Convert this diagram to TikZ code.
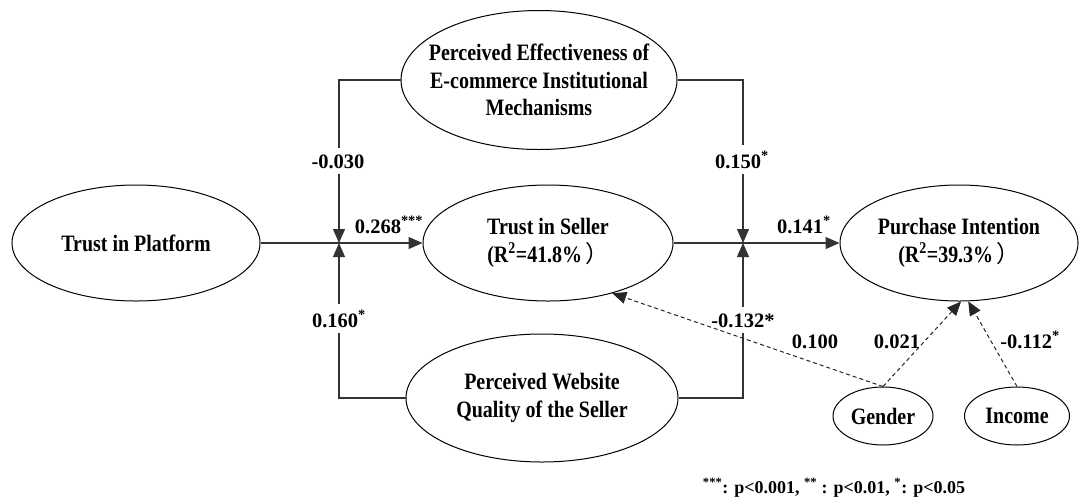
\documentclass[tikz,border=0pt]{standalone}
\usepackage{fontspec}
\setmainfont{Liberation Serif}
\newfontfamily\narrowfont{Liberation Serif}[FakeStretch=0.85]
\newfontfamily\cjk{Noto Sans CJK SC}
\usepackage{tikz}
\usetikzlibrary{shapes.geometric}
\usetikzlibrary{arrows.meta}

\begin{document}
\begin{tikzpicture}[x=1pt,y=-1pt,
  var/.style={draw=black,line width=1pt,ellipse,inner sep=0pt,align=center,
    font=\narrowfont\bfseries\fontsize{23.5}{27.5}\selectfont},
  coef/.style={font=\bfseries\fontsize{20.5}{24}\selectfont,anchor=base,inner sep=1pt},
  cut/.style={fill=white,inner xsep=2pt,inner ysep=6pt},
  path/.style={line width=1.2pt,black!80},
  ctrl/.style={line width=1pt,black!85,dash pattern=on 4pt off 3pt},
  >={Triangle[length=14pt,width=12pt]}]
\useasboundingbox (0,0) rectangle (1079,499);

\node[var,minimum width=248pt,minimum height=116pt] (tp) at (136,243) {Trust in Platform};
\node[var,minimum width=250pt,minimum height=116pt] (ts) at (548,243) {Trust in Seller\\(R\textsuperscript{2}=41.8\%\hspace{3pt}{\cjk\mdseries ）}};
\node[var,minimum width=238pt,minimum height=116pt] (pi) at (959,243) {Purchase Intention\\(R\textsuperscript{2}=39.3\%\hspace{3pt}{\cjk\mdseries ）}};
\node[var,minimum width=276pt,minimum height=139pt,inner xsep=-20pt] (pe) at (539,80) {Perceived Effectiveness of\\E-commerce Institutional\\Mechanisms};
\node[var,minimum width=272pt,minimum height=128pt] (pw) at (542,398) {Perceived Website\\Quality of the Seller};
\node[var,minimum width=100pt,minimum height=58pt] (gd) at (883,416) {Gender};
\node[var,minimum width=105pt,minimum height=58pt] (ic) at (1017,416) {Income};

\coordinate (j1) at (339,243);
\coordinate (j2) at (743,243);

\draw[path,->] (tp) -- (ts);
\draw[path,->] (ts) -- (pi);
\draw[path,->] (pe.west) -| (j1);
\draw[path,->] (pw.west) -| (j1);
\draw[path,->] (pe.east) -| (j2);
\draw[path,->] (pw.east) -| (j2);

\node[coef,cut] (c1) at (338,168) {-0.030};
\node[coef,cut] (c2) at (742,168) {0.150\textsuperscript{*}};
\node[coef,cut] (c3) at (339,327) {0.160\textsuperscript{*}};
\node[coef,cut] (c4) at (743,327) {-0.132*};
\node[coef] (c5) at (389,233) {0.268\textsuperscript{***}};
\node[coef] (c6) at (804,233) {0.141\textsuperscript{*}};

\draw[ctrl,->] (gd.north) -- (ts.-38);
\draw[ctrl,->] (gd.north) -- (pi.-88);
\draw[ctrl,->] (ic.north) -- (pi.-81);

\node[coef] (c7) at (815,348) {0.100};
\node[coef] (c8) at (897,348) {0.021};
\node[coef] (c9) at (1030,348) {-0.112\textsuperscript{*}};

\node[coef,font=\bfseries\fontsize{18}{22}\selectfont] (note) at (834,493) {\textsuperscript{***}: p<0.001, \textsuperscript{**} : p<0.01, \textsuperscript{*}: p<0.05};
\end{tikzpicture}
\end{document}
